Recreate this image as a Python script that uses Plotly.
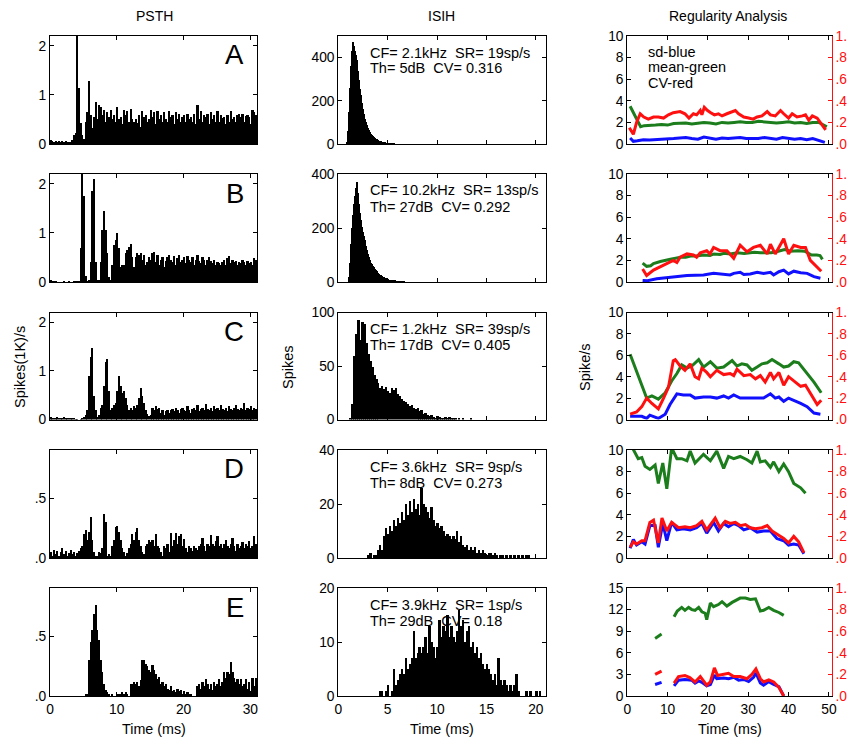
import plotly.graph_objects as go

W, H = 867, 748

# ---------------- data ----------------
PSTH_BIN = 0.25  # ms
PSTH_A = [0.08,0.07,0.05,0.06,0.04,0.06,0.05,0.07,0.04,0.06,0.03,0.05,0.03,
          0.08,0.18,0.22,2.4,1.15,0.42,0.18,0.1,0.45,0.65,1.28,0.6,0.32,
          0.55,0.85,0.5,0.8,
          0.75,0.6,0.7,0.45,0.65,0.55,0.7,0.5,0.6,0.45,
          0.75,0.5,0.55,0.4,0.7,0.6,0.68,0.45,0.72,0.5,
          0.45,0.5,0.42,0.6,0.35,0.68,0.55,0.6,0.45,0.5,
          0.7,0.55,0.65,0.4,0.68,0.5,0.6,0.45,0.65,0.5,
          0.45,0.68,0.55,0.6,0.4,0.65,0.5,0.62,0.45,0.55,
          0.6,0.45,0.62,0.5,0.55,0.45,0.62,0.4,0.8,0.5,
          0.68,0.45,0.6,0.55,0.62,0.4,0.65,0.5,0.6,0.45,
          0.68,0.45,0.6,0.52,0.55,0.4,0.6,0.45,0.68,0.5,
          0.55,0.45,0.6,0.62,0.55,0.62,0.45,0.58,0.6,0.55,0.4,0.7,0.65,0.6]
PSTH_B = [0.04,0.02,0.01,0.01,0.0,0.0,0.0,0.0,0.01,0.0,0.0,0.01,0.0,0.0,0.01,0.01,0.01,0.02,
          0.7,2.4,1.75,0.12,0.02,0.05,0.4,1.85,2.1,0.4,0.05,0.05,
          0.4,1.05,1.45,1.05,0.6,0.1,0.05,0.35,0.75,0.85,1.0,0.7,0.3,0.35,0.35,
          0.6,0.65,0.72,0.78,0.5,0.3,0.5,0.6,0.55,0.6,0.45,0.55,0.35,0.4,0.5,
          0.45,0.6,0.62,0.4,
          0.55,0.35,0.45,0.5,0.3,0.42,0.5,0.55,0.45,0.4,
          0.52,0.35,0.48,0.55,0.4,0.45,0.5,0.38,0.52,0.45,
          0.4,0.5,0.35,0.45,0.55,0.42,0.38,0.5,0.45,0.35,
          0.45,0.5,0.42,0.38,0.45,0.35,0.4,0.38,0.35,0.4,
          0.45,0.35,0.48,0.52,0.38,0.45,0.4,0.42,0.35,0.4,
          0.38,0.45,0.4,0.35,0.42,0.38,0.4,0.35,0.48,0.45]
PSTH_C = [0.06,0.03,0.05,0.04,0.06,0.03,0.05,0.04,0.06,0.05,0.04,0.03,0.05,0.04,0.03,0.02,
          0.01,0.0,0.02,0.04,0.06,0.1,0.2,0.9,1.3,1.48,0.5,0.2,0.06,0.1,
          0.25,0.3,0.7,1.2,1.25,0.6,0.2,0.25,0.3,0.35,0.6,0.9,0.7,0.55,0.6,0.45,
          0.3,0.2,0.25,0.2,0.28,0.25,0.3,0.45,0.65,0.5,0.35,0.2,0.12,0.08,
          0.1,0.25,0.2,0.28,
          0.22,0.25,0.15,0.2,0.1,0.18,0.2,0.15,0.2,0.22,
          0.18,0.25,0.2,0.15,0.22,0.25,0.2,0.18,0.28,0.2,
          0.15,0.22,0.25,0.2,0.3,0.18,0.22,0.25,0.2,0.33,
          0.22,0.2,0.25,0.18,0.28,0.22,0.25,0.2,0.3,0.22,
          0.2,0.25,0.18,0.28,0.22,0.2,0.25,0.3,0.22,0.2,
          0.25,0.22,0.35,0.2,0.25,0.22,0.28,0.2,0.25,0.22]
PSTH_D = [0.05,0.02,0.07,0.03,0.06,0.02,0.05,0.08,0.03,0.06,0.02,0.04,0.07,0.03,0.05,0.02,0.04,0.06,0.08,
          0.1,0.2,0.23,0.15,0.22,0.34,0.15,0.05,0.02,0.02,0.05,0.04,0.08,0.37,0.3,
          0.02,0.03,0.02,0.1,0.15,0.26,0.27,0.22,0.15,0.08,0.05,0.02,
          0.04,0.08,0.12,0.2,0.15,0.22,0.25,0.15,0.1,0.05,0.03,0.1,0.12,0.15,
          0.13,0.15,0.1,0.2,
          0.1,0.08,0.05,0.02,0.1,0.08,0.12,0.05,0.21,0.1,
          0.15,0.21,0.12,0.18,0.2,0.1,0.16,0.08,0.05,0.1,
          0.08,0.06,0.1,0.08,0.07,0.1,0.12,0.17,0.1,0.06,
          0.12,0.1,0.19,0.12,0.1,0.14,0.18,0.1,0.12,0.08,
          0.12,0.15,0.1,0.08,0.12,0.17,0.1,0.06,0.12,0.08,
          0.1,0.13,0.08,0.12,0.1,0.14,0.08,0.1,0.18,0.12]
PSTH_E = [0.0,0.0,0.0,0.0,0.0,0.0,0.0,0.0,0.0,0.0,0.0,0.0,0.0,0.0,0.0,0.0,0.0,0.0,0.0,0.0,0.0,
          0.01,0.01,0.3,0.45,0.55,0.68,0.76,0.55,0.47,0.3,0.2,0.1,0.05,0.03,0.02,
          0.0,0.01,0.0,0.0,0.02,0.01,0.02,0.03,0.01,0.03,0.02,0.0,
          0.1,0.1,0.12,0.1,0.12,0.08,0.13,0.3,0.3,0.27,0.25,0.22,0.2,0.26,0.22,0.18,
          0.14,0.16,0.1,0.12,0.08,0.1,0.06,0.05,0.08,0.04,0.05,0.03,0.06,0.04,0.05,0.02,
          0.04,0.02,0.03,0.02,0.01,0.0,0.0,0.0,
          0.08,0.1,0.06,0.12,0.08,0.14,0.1,0.06,0.1,0.05,0.12,0.08,0.1,0.14,0.08,0.12,
          0.2,0.15,0.2,0.18,0.28,0.2,0.15,0.12,0.14,0.1,0.14,0.08,0.1,0.14,0.06,0.12,
          0.04,0.15,0.08,0.15]

ISI_A_START, ISI_A_BIN = 0.9, 0.1
ISI_A = [10,60,150,260,360,430,472,455,430,410,390,340,295,255,225,190,160,140,118,100,
         86,74,64,56,48,42,37,32,28,25,22,19,16,14,12,10,8,6,5,4,3,3,2,1,1,1,0,1]
ISI_B_START, ISI_B_BIN = 1.0, 0.1
ISI_B = [0,20,70,140,200,250,290,320,350,370,330,290,255,230,205,185,170,155,135,120,
         105,92,80,72,65,60,54,50,44,40,34,29,25,27,22,19,17,15,13,12,10,9,8,7,6,5,4,4,
         3,3,2,2,1,1,1,0,1]
ISI_C_START, ISI_C_BIN = 1.2, 0.2
ISI_C = [1,15,60,80,93,75,92,90,72,62,55,50,42,38,35,30,32,29,31,27,25,30,28,30,24,22,
         20,18,17,15,13,14,11,10,11,8,9,6,7,5,4,5,3,2,4,3,1,2,3,1,3,1,2,1,0,1,0,1,0,0,0,1]
ISI_D_START, ISI_D_BIN = 2.8, 0.2
ISI_D = [0,1,2,0,1,1,3,5,3,8,11,9,12,10,14,12,15,13,17,14,20,16,21,17,22,18,20,16,26,20,
         19,17,15,19,14,12,13,11,12,10,8,9,8,7,8,7,10,6,8,5,4,5,3,4,3,4,2,3,2,3,2,1,2,2,
         1,2,1,0,1,1,0,1,0,1,0,1,0,1,0,1,0,1,1]
ISI_E_START, ISI_E_BIN = 4.0, 0.2
ISI_E = [0,1,1,0,1,2,0,1,5,2,3,4,5,4,7,5,6,7,12,7,8,9,8,9,11,8,13,10,9,7,9,14,11,13,12,15,
         11,13,11,10,12,16,13,14,10,12,13,9,10,8,9,7,8,6,5,6,5,4,3,4,2,7,3,2,3,2,1,2,1,2,
         4,1,0,0,0,1,0,1,0,0,1,0,1]

NB = "\u00a0"
ISI_TEXT = [(f"CF= 2.1kHz {NB}SR= 19sp/s", f"Th= 5dB {NB}CV= 0.316"),
            (f"CF= 10.2kHz {NB}SR= 13sp/s", f"Th= 27dB {NB}CV= 0.292"),
            (f"CF= 1.2kHz {NB}SR= 39sp/s", f"Th= 17dB {NB}CV= 0.405"),
            (f"CF= 3.6kHz {NB}SR= 9sp/s", f"Th= 8dB {NB}CV= 0.273"),
            (f"CF= 3.9kHz {NB}SR= 1sp/s", f"Th= 29dB {NB}CV= 0.18")]
PANEL_LETTERS = ["A", "B", "C", "D", "E"]

# regularity analysis: (time ms, value) pairs; None marks a gap
REG_A_SD = [(0.7,0.55),(1.5,0.25),(2.5,0.3),(4,0.4),(5.5,0.38),(7,0.4),(8.5,0.45),(10,0.42),(11.5,0.5),
            (13,0.55),(14.5,0.6),(16,0.5),(17.5,0.45),(19,0.65),(20.5,0.55),(22,0.45),(23.5,0.55),(25,0.5),
            (26.5,0.55),(28,0.6),(29.5,0.5),(31,0.5),(32.5,0.5),(34,0.6),(35.5,0.55),(37,0.45),(38.5,0.6),
            (40,0.5),(41.5,0.45),(43,0.5),(44.5,0.4),(46,0.5),(47.5,0.35),(49,0.15)]
REG_A_MEAN = [(0.7,3.5),(1.5,2.9),(2.5,2.1),(3.3,1.6),(4.2,1.7),(5.5,1.7),(7,1.75),(8.5,1.8),(10,1.75),
              (11.5,1.9),(13,1.9),(14.5,1.95),(16,1.85),(17.5,1.9),(19,2.0),(20.5,1.95),(22,1.85),(23.5,2.0),
              (25,1.95),(26.5,2.0),(28,2.05),(29.5,2.0),(31,2.0),(32.5,2.1),(34,2.05),(35.5,2.05),(37,1.95),
              (38.5,2.0),(40,2.05),(41.5,1.95),(43,2.0),(44.5,1.9),(46,2.0),(47.5,2.0),(49,1.75),(49.5,1.6)]
REG_A_CV = [(0.5,0.15),(1.5,0.09),(2.3,0.2),(3.2,0.28),(4.1,0.25),(5.2,0.23),(6.5,0.25),(7.7,0.25),(9,0.24),
            (10.2,0.27),(11.4,0.29),(13.1,0.3),(14.3,0.28),(15.3,0.24),(16.4,0.28),(17.2,0.27),(18.1,0.31),
            (18.5,0.27),(19.1,0.34),(19.9,0.31),(20.7,0.29),(21.6,0.27),(22.6,0.28),(23.5,0.26),(24.7,0.28),
            (26,0.3),(26.8,0.31),(27.6,0.28),(28.9,0.25),(30.1,0.24),(31.2,0.23),(32.2,0.25),(33.4,0.26),
            (34.7,0.3),(35.5,0.27),(36.7,0.26),(38,0.31),(38.8,0.28),(40,0.24),(40.9,0.28),(42.1,0.25),
            (43.4,0.26),(44.2,0.27),(45,0.22),(45.9,0.26),(47.1,0.24),(48.3,0.18),(49.2,0.13)]

REG_B_SD = [(3.8,0.15),(5,0.12),(7.3,0.3),(9,0.35),(10.6,0.45),(12.5,0.5),(14.8,0.6),(17,0.6),(18.9,0.65),
            (21.4,0.8),(23.9,0.75),(25.5,0.65),(26.4,0.8),(28,0.9),(28.9,0.7),(30.5,0.75),(32.2,0.9),
            (33.8,0.8),(35.5,0.9),(36.3,0.65),(37.6,0.95),(38.8,1.1),(40,0.75),(41.3,1.0),(43,0.85),
            (44.6,0.8),(46.3,0.5),(47.9,0.35)]
REG_B_MEAN = [(3.8,1.75),(4.8,1.45),(5.8,1.5),(6.5,1.7),(8.2,1.9),(10,2.0),(10.7,2.1),(12,2.2),(13.2,2.3),
              (14.5,2.3),(15.7,2.4),(17,2.4),(19,2.5),(20.5,2.45),(21.5,2.6),(23,2.55),(24,2.65),(25.5,2.6),
              (27.3,2.7),(29,2.65),(31.5,2.75),(33,2.7),(35.7,2.7),(37,2.8),(39,3.0),(40.5,2.85),(42.3,2.9),
              (44,2.85),(45.7,2.5),(47,2.5),(47.8,2.45),(48.4,2.1)]
REG_B_CV = [(3.8,0.12),(4.8,0.06),(6.5,0.11),(8.1,0.14),(9.8,0.17),(11.4,0.2),(12.3,0.18),(13.1,0.23),
            (14.8,0.26),(16.4,0.25),(17.2,0.23),(18.1,0.27),(19.7,0.29),(20.5,0.26),(21.4,0.32),(23,0.29),
            (24.7,0.29),(26.4,0.22),(28,0.34),(29.7,0.28),(31.3,0.32),(33,0.34),(34.7,0.26),(35.5,0.35),
            (36.7,0.26),(38.8,0.4),(40,0.26),(41.3,0.34),(43,0.32),(44.2,0.32),(45.4,0.2),(47.1,0.14),(48.1,0.1)]

REG_C_SD = [(0.7,0.3),(3.6,0.3),(4.8,0.1),(5.6,0.4),(7.7,0.1),(9.4,0.5),(10.6,1.4),(12.3,2.4),(13.9,2.3),
            (15.6,2.3),(16.8,2.0),(18.9,2.1),(20.6,2.1),(22.2,2.0),(23.9,2.2),(25.1,2.0),(26.4,2.3),(28,2.0),
            (30.5,2.0),(33.8,2.0),(35.5,2.4),(36.7,2.0),(37.6,2.1),(38.8,1.7),(40,2.0),(41.3,1.8),(43,1.5),
            (44.6,1.2),(46.3,0.6),(47.9,0.5)]
REG_C_MEAN = [(0.7,6.1),(2.3,4.5),(3.6,3.2),(4.8,2.0),(6.1,2.2),(7.7,1.9),(9.4,2.5),(11,3.6),(12.3,4.3),
              (13.5,5.1),(14.8,4.8),(16,5.0),(17.7,5.6),(18.9,4.9),(20.6,5.4),(22.2,4.8),(23.9,4.9),(26,5.5),
              (27.2,5.0),(28.4,5.2),(29.7,5.1),(30.9,4.6),(32.2,4.9),(33.4,5.2),(34.7,5.3),(35.9,5.6),
              (37.6,5.2),(38.8,4.9),(40,5.0),(41.3,5.4),(42.5,5.3),(43.8,4.7),(45,4.2),(46.3,3.5),(48.1,2.5)]
REG_C_CV = [(0.7,0.05),(2.3,0.07),(3.6,0.12),(4.8,0.2),(6.1,0.15),(7.7,0.1),(9,0.2),(10.2,0.3),(11.4,0.55),
            (11.9,0.56),(13.1,0.5),(14.3,0.46),(15.6,0.52),(16.8,0.4),(17.7,0.38),(18.5,0.48),(19.7,0.44),
            (20.6,0.4),(22.2,0.46),(23.9,0.42),(25.5,0.43),(26.4,0.41),(27.2,0.47),(28.9,0.41),(30.5,0.42),
            (31.8,0.38),(33,0.41),(34.2,0.35),(35.5,0.44),(36.3,0.38),(37.6,0.44),(38.8,0.32),(40,0.4),
            (41.3,0.36),(43,0.31),(44.2,0.32),(45.4,0.24),(47.1,0.14),(48.1,0.18)]

REG_D_SD = [(0.7,0.9),(1.5,1.7),(2.3,1.2),(3.6,1.5),(4.4,1.3),(5.6,3.0),(6.9,3.0),(7.7,1.0),(8.8,3.2),
            (9.8,1.6),(11,3.3),(12.3,2.6),(13.9,2.7),(15.6,2.6),(17.2,2.8),(18.5,3.2),(19.7,2.3),(21.4,3.3),
            (22.6,2.5),(23.9,3.2),(25.1,2.9),(26.4,3.2),(27.6,3.0),(28.9,2.6),(30.5,2.8),(32.2,2.4),
            (33.8,2.5),(35.5,2.5),(37.1,1.8),(38.8,1.6),(40,1.2),(41.3,1.3),(42.5,1.2),(43.8,0.4)]
REG_D_MEAN = [(0.7,10.6),(1.9,9.8),(2.7,9.2),(3.6,9.3),(4.4,8.5),(5.6,8.2),(6.9,8.6),(7.7,6.9),(8.8,8.8),
              (9.8,6.4),(11,10.2),(12.3,9.2),(13.5,9.2),(14.8,9.0),(15.6,9.9),(16.8,8.8),(18.1,9.3),
              (18.9,9.6),(20.6,9.0),(22.2,9.9),(23.9,8.3),(25.1,9.4),(26.4,9.2),(28,9.4),(29.7,9.1),
              (30.9,8.8),(32.2,9.9),(33,8.9),(34.2,9.0),(35.5,8.4),(36.3,8.9),(37.6,8.0),(38.8,8.7),
              (40,8.0),(41.3,6.9),(43,6.5),(44.2,6.0)]
REG_D_CV = [(0.7,0.1),(1.5,0.15),(2.3,0.13),(3.6,0.16),(4.4,0.16),(5.6,0.33),(6.5,0.35),(7.7,0.14),
            (8.6,0.37),(9.8,0.25),(11,0.33),(12.7,0.28),(14.3,0.29),(15.6,0.28),(17.2,0.3),(18.5,0.34),
            (19.7,0.26),(21.8,0.37),(23,0.28),(24.3,0.34),(25.5,0.32),(26.8,0.33),(28,0.3),(29.3,0.31),
            (30.5,0.28),(31.8,0.27),(33.4,0.28),(34.7,0.3),(35.9,0.25),(37.6,0.21),(38.8,0.18),(40,0.14),
            (41.3,0.2),(42.5,0.15),(43.8,0.05)]

REG_E_SD = [(6.9,1.6),(8.5,1.9),(10,None),(11.6,1.4),(12.7,2.2),(14.3,2.3),(16,2.2),(16.8,1.8),(17.7,2.1),
            (18.5,1.9),(19.7,1.4),(20.6,1.6),(21.6,2.9),(22.2,2.4),(23.9,2.5),(25.1,2.4),(26.4,2.6),
            (27.6,2.2),(28.9,2.3),(30.1,2.0),(31.3,2.6),(31.9,3.2),(33,1.8),(33.8,1.5),(35.1,2.0),
            (36.3,1.6),(37.6,1.3),(38.8,0.0)]
REG_E_MEAN = [(6.9,8.0),(7.7,8.3),(8.5,8.6),(10,None),(11.6,11.0),(12.4,11.8),(13.5,12.3),(14.3,11.9),
              (15.2,12.3),(16,12.0),(16.8,11.9),(17.7,12.3),(18.5,11.7),(19.3,11.5),(19.7,10.6),(20.6,12.9),
              (21.4,12.4),(22.6,12.7),(23.5,13.1),(24.7,12.5),(26,13.0),(27.2,13.4),(28,13.6),(29.3,13.6),
              (30.5,13.4),(31.8,13.5),(33,11.8),(33.8,11.9),(35.1,12.3),(36.3,11.9),(37.6,11.6),(38.8,11.2)]
REG_E_CV = [(6.9,0.2),(8.5,0.23),(10,None),(11.6,0.12),(12.7,0.18),(14.3,0.19),(15.5,0.17),(16.8,0.13),
            (18.1,0.18),(18.9,0.14),(19.7,0.1),(20.6,0.13),(21.6,0.26),(22.4,0.19),(23.9,0.2),(25.1,0.21),
            (26.4,0.18),(28,0.18),(29.7,0.16),(30.9,0.2),(31.9,0.25),(33,0.16),(33.8,0.13),(35.1,0.15),
            (36.3,0.13),(37.6,0.08),(38.8,0.0)]

REG = [(REG_A_SD, REG_A_MEAN, REG_A_CV), (REG_B_SD, REG_B_MEAN, REG_B_CV),
       (REG_C_SD, REG_C_MEAN, REG_C_CV), (REG_D_SD, REG_D_MEAN, REG_D_CV),
       (REG_E_SD, REG_E_MEAN, REG_E_CV)]
PSTHS = [PSTH_A, PSTH_B, PSTH_C, PSTH_D, PSTH_E]
ISIS = [(ISI_A_START, ISI_A_BIN, ISI_A), (ISI_B_START, ISI_B_BIN, ISI_B), (ISI_C_START, ISI_C_BIN, ISI_C),
        (ISI_D_START, ISI_D_BIN, ISI_D), (ISI_E_START, ISI_E_BIN, ISI_E)]

PSTH_YMAX = [2.2, 2.2, 2.2, 0.9, 0.9]
PSTH_YTICKS = [([0, 1, 2], ["0", "1", "2"])] * 3 + [([0, 0.5], [".0", ".5"])] * 2
ISI_YMAX = [500, 400, 100, 40, 20]
ISI_YTICKS = [[0, 200, 400], [0, 200, 400], [0, 50, 100], [0, 20, 40], [0, 10, 20]]
REG_YMAX = [10, 10, 10, 10, 15]
REG_YTICKS = [[0, 2, 4, 6, 8, 10]] * 4 + [[0, 3, 6, 9, 12, 15]]
CV_TICKS = ([0, 0.2, 0.4, 0.6, 0.8, 1.0], [".0", ".2", ".4", ".6", ".8", "1."])

# ---------------- layout helpers ----------------
FONT = "Liberation Sans, Arial, sans-serif"
COLS = [(50, 257), (338.3, 545.7), (627.3, 831.7)]
ROWS = [(36, 144), (174, 282), (312.5, 419.5), (450, 558), (588, 696)]
GREEN, BLUE, RED = "#1b7d1b", "#1010ff", "#ff1010"
TICK_SIZE = 13.8
TEXT_SIZE = 14.5


def px(x):
    return x / W


def py(y):
    return 1 - y / H


def ax(**kw):
    d = dict(showline=True, linecolor="black", linewidth=1, ticks="inside", ticklen=4, tickwidth=1,
             tickcolor="black", showgrid=False, zeroline=False, fixedrange=True, automargin=False,
             tickfont=dict(size=TICK_SIZE, color="black", family=FONT))
    d.update(kw)
    return d


fig = go.Figure()
lay = {}
ann = []

n = 0
for r in range(5):
    top, bot = ROWS[r]
    for c in range(3):
        n += 1
        xn = "x" if n == 1 else f"x{n}"
        yn = "y" if n == 1 else f"y{n}"
        xk = "xaxis" if n == 1 else f"xaxis{n}"
        yk = "yaxis" if n == 1 else f"yaxis{n}"
        last = (r == 4)
        if c == 0:
            vals = PSTHS[r]
            fig.add_trace(go.Bar(x=[(i + 0.5) * PSTH_BIN for i in range(len(vals))], y=vals,
                                 width=PSTH_BIN, marker=dict(color="black", line=dict(width=0)),
                                 xaxis=xn, yaxis=yn, showlegend=False))
            lay[xk] = ax(domain=[px(COLS[0][0]), px(COLS[0][1])], range=[0, 31], anchor=yn,
                         tickvals=[0, 10, 20, 30], showticklabels=last, mirror="ticks")
            tv, tt = PSTH_YTICKS[r]
            lay[yk] = ax(domain=[py(bot), py(top)], range=[0, PSTH_YMAX[r]], anchor=xn,
                         tickvals=tv, ticktext=tt, mirror="ticks")
        elif c == 1:
            st, bw, vals = ISIS[r]
            fig.add_trace(go.Bar(x=[st + (i + 0.5) * bw for i in range(len(vals))], y=vals,
                                 width=bw, marker=dict(color="black", line=dict(width=0)),
                                 xaxis=xn, yaxis=yn, showlegend=False))
            lay[xk] = ax(domain=[px(COLS[1][0]), px(COLS[1][1])], range=[0, 21], anchor=yn,
                         tickvals=[0, 5, 10, 15, 20], showticklabels=last, mirror="ticks")
            lay[yk] = ax(domain=[py(bot), py(top)], range=[0, ISI_YMAX[r]], anchor=xn,
                         tickvals=ISI_YTICKS[r], mirror="ticks")
        else:
            sd, mean, cv = REG[r]
            ymax = REG_YMAX[r]
            for series, color in ((sd, BLUE), (mean, GREEN)):
                fig.add_trace(go.Scatter(x=[p[0] for p in series], y=[p[1] for p in series],
                                         mode="lines", line=dict(color=color, width=3),
                                         connectgaps=False,
                                         xaxis=xn, yaxis=yn, showlegend=False))
            on = 15 + r + 1
            ovn = f"y{on}"
            fig.add_trace(go.Scatter(x=[p[0] for p in cv], y=[p[1] for p in cv],
                                     mode="lines", line=dict(color=RED, width=3), connectgaps=False,
                                     xaxis=xn, yaxis=ovn, showlegend=False))
            lay[xk] = ax(domain=[px(COLS[2][0]), px(COLS[2][1])], range=[0, 50.7], anchor=yn,
                         tickvals=[0, 10, 20, 30, 40, 50], showticklabels=last, mirror="ticks")
            lay[yk] = ax(domain=[py(bot), py(top)], range=[0, ymax], anchor=xn,
                         tickvals=REG_YTICKS[r], mirror=False)
            lay[f"yaxis{on}"] = ax(overlaying=yn, side="right", anchor=xn, range=[0, 1],
                                   tickvals=CV_TICKS[0], ticktext=CV_TICKS[1], linecolor=RED,
                                   tickcolor=RED, tickfont=dict(size=TICK_SIZE, color=RED, family=FONT))

for r in range(5):
    ann.append(dict(x=px(246), y=py(ROWS[r][0] + 19), xref="paper", yref="paper", text=PANEL_LETTERS[r],
                    showarrow=False, xanchor="right", yanchor="middle",
                    font=dict(size=27.5, color="black", family=FONT)))
    l1, l2 = ISI_TEXT[r]
    ann.append(dict(x=px(368), y=py(ROWS[r][0] + 16.5), xref="paper", yref="paper", text=l1,
                    showarrow=False, xanchor="left", yanchor="middle",
                    font=dict(size=TEXT_SIZE, color="black", family=FONT)))
    ann.append(dict(x=px(368), y=py(ROWS[r][0] + 32.5), xref="paper", yref="paper", text=l2,
                    showarrow=False, xanchor="left", yanchor="middle",
                    font=dict(size=TEXT_SIZE, color="black", family=FONT)))

for i, t in enumerate(["sd-blue", "mean-green", "CV-red"]):
    ann.append(dict(x=px(646), y=py(52 + 15.5 * i), xref="paper", yref="paper", text=t,
                    showarrow=False, xanchor="left", yanchor="middle",
                    font=dict(size=TEXT_SIZE, color="black", family=FONT)))

for x, t in ((154, "PSTH"), (441, "ISIH"), (728, "Regularity Analysis")):
    ann.append(dict(x=px(x), y=py(16), xref="paper", yref="paper", text=t, showarrow=False,
                    xanchor="center", yanchor="middle", font=dict(size=14, color="black", family=FONT)))

for x in ((50 + 257) / 2, (338.3 + 545.7) / 2, (627.3 + 831.7) / 2):
    ann.append(dict(x=px(x), y=py(729), xref="paper", yref="paper", text="Time (ms)", showarrow=False,
                    xanchor="center", yanchor="middle", font=dict(size=14.3, color="black", family=FONT)))

for x, t in ((20, "Spikes(1K)/s"), (288, "Spikes"), (585, "Spike/s")):
    ann.append(dict(x=px(x), y=py(367), xref="paper", yref="paper", text=t, showarrow=False,
                    textangle=-90, xanchor="center", yanchor="middle",
                    font=dict(size=TEXT_SIZE, color="black", family=FONT)))

fig.update_layout(width=W, height=H, margin=dict(l=0, r=0, t=0, b=0, pad=0, autoexpand=False),
                  paper_bgcolor="white", plot_bgcolor="white", bargap=0, showlegend=False,
                  annotations=ann, font=dict(family=FONT, color="black"), **lay)

fig.write_html("out.html", config={"displayModeBar": False},
               post_script="document.body.style.margin='0';document.body.style.overflow='hidden';"
                           "document.documentElement.style.overflow='hidden';")
